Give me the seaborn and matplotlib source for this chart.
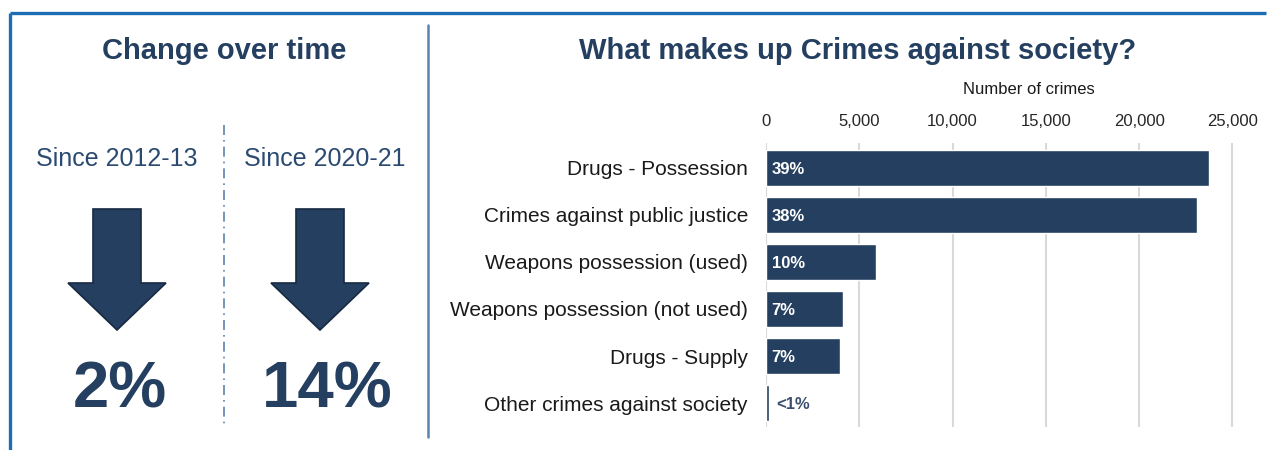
import matplotlib
matplotlib.use("Agg")
import matplotlib.pyplot as plt
from matplotlib.patches import Polygon
from matplotlib.ticker import FuncFormatter
import seaborn as sns
import pandas as pd

# ---- data ----
categories = ["Drugs - Possession", "Crimes against public justice",
              "Weapons possession (used)", "Weapons possession (not used)",
              "Drugs - Supply", "Other crimes against society"]
counts = [23730, 23090, 5870, 4140, 3960, 180]
share_labels = ["39%", "38%", "10%", "7%", "7%", "<1%"]
xticks = [0, 5000, 10000, 15000, 20000, 25000]

periods = ["Since 2012-13", "Since 2020-21"]
changes = ["2%", "14%"]

NAVY = "#243f60"
TXT = "#2b4a72"
FONT = ["Liberation Sans", "DejaVu Sans"]

sns.set_theme(style="white")
plt.rcParams["font.family"] = FONT

W, H = 1270, 450
fig = plt.figure(figsize=(12.7, 4.5), dpi=100)
fig.patch.set_facecolor("white")

# ---- pixel-space overlay for decoration ----
bg = fig.add_axes([0, 0, 1, 1], zorder=0)
bg.set_xlim(0, W)
bg.set_ylim(H, 0)
bg.axis("off")

# outer frame (top + left)
bg.plot([10, 1266], [13, 13], color="#1c6db3", lw=2.4, solid_capstyle="butt")
bg.plot([10, 10], [13, 450], color="#1c6db3", lw=2.4, solid_capstyle="butt")
# panel divider
bg.plot([428, 428], [25, 437], color="#5b82ad", lw=1.8)
# dash-dot divider in left panel
bg.plot([224, 224], [125, 426], color="#5b82ad", lw=1.2, ls=(0, (6, 3, 1, 3)))

bg.text(224, 51, "Change over time", ha="center", va="center",
        fontsize=21, fontweight="bold", color=NAVY)
bg.text(858, 51, "What makes up Crimes against society?", ha="center", va="center",
        fontsize=21, fontweight="bold", color=NAVY)

centers = [117, 320]
for cx, per, ch in zip(centers, periods, changes):
    bg.text(cx if cx != 320 else 325, 159, per, ha="center", va="center",
            fontsize=18, color=TXT)
    # down arrow icon
    sw, hw = 24, 49
    pts = [(cx - sw, 209), (cx + sw, 209), (cx + sw, 283), (cx + hw, 283),
           (cx, 330), (cx - hw, 283), (cx - sw, 283)]
    bg.add_patch(Polygon(pts, closed=True, facecolor=NAVY, edgecolor="#172a42", lw=1.2))
    bg.text(cx + (3 if cx == 117 else 7), 390, ch, ha="center", va="center",
            fontsize=47, fontweight="bold", color=NAVY)

# ---- bar chart ----
ax = fig.add_axes([766 / W, 1 - 427 / H, (1238 - 766) / W, (427 - 143) / H], zorder=2)
ax.patch.set_alpha(0)
df = pd.DataFrame({"category": categories, "count": counts})
sns.barplot(data=df, x="count", y="category", orient="h", color=NAVY,
            width=0.77, saturation=1, ax=ax)
ax.set_xlim(0, 25300)
ax.set_ylim(len(categories) - 0.49, -0.53)
ax.set_xticks(xticks)
ax.xaxis.set_major_formatter(FuncFormatter(lambda v, p: f"{int(v):,}"))
ax.xaxis.tick_top()
ax.xaxis.set_label_position("top")
ax.set_xlabel("Number of crimes", fontsize=12, color="#1a1a1a", labelpad=14)
ax.xaxis.set_label_coords((1029 - 766) / (1238 - 766), 1 + (143 - 90) / (427 - 143) - 0.0)
ax.xaxis.label.set_va("center")
ax.set_ylabel("")
ax.tick_params(axis="x", length=0, pad=10, labelsize=12, labelcolor="#262626")
ax.tick_params(axis="y", length=0, pad=13, labelsize=15, labelcolor="#1a1a1a")
ax.grid(axis="x", color="#d9d9d9", lw=1.5)
ax.grid(axis="y", visible=False)
ax.set_axisbelow(True)
for s in ax.spines.values():
    s.set_visible(False)

for i, (v, lab) in enumerate(zip(counts, share_labels)):
    if v > 2000:
        ax.annotate(lab, xy=(0, i), xytext=(4, -1), textcoords="offset points",
                    ha="left", va="center", fontsize=12, fontweight="bold", color="white")
    else:
        ax.annotate(lab, xy=(v, i), xytext=(5, -1), textcoords="offset points",
                    ha="left", va="center", fontsize=12, fontweight="bold", color="#3a4f6e")

fig.savefig("out.png", dpi=100, facecolor="white")
